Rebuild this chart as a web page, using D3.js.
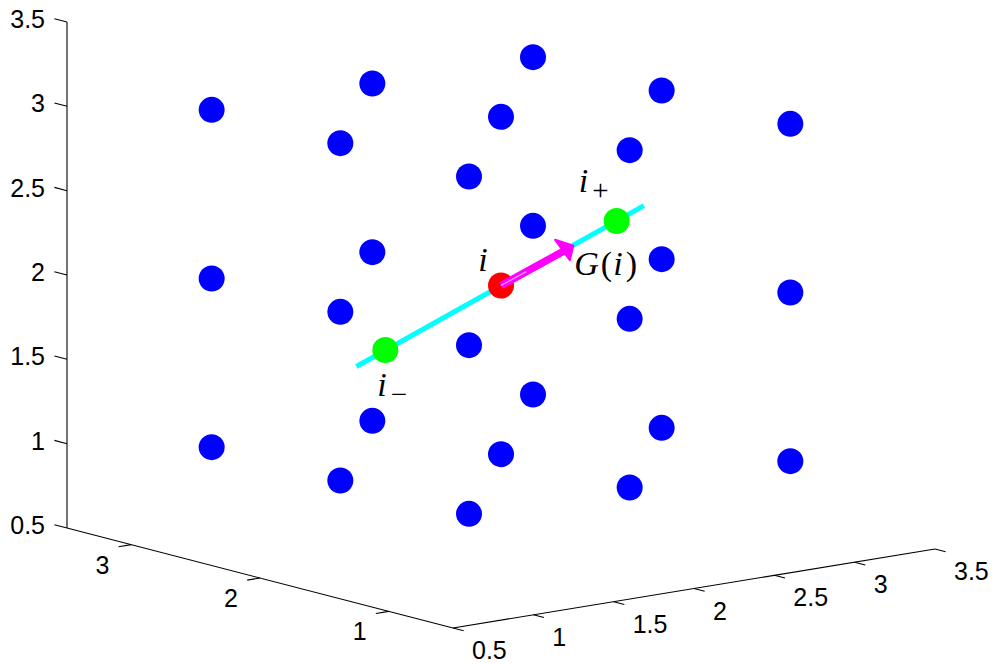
<!DOCTYPE html>
<html>
<head>
<meta charset="utf-8">
<script src="https://cdn.jsdelivr.net/npm/d3@7"></script>
<style>
  html, body { margin: 0; padding: 0; background: #fff; }
  svg { display: block; }
</style>
</head>
<body>
<svg id="chart" width="996" height="664"></svg>
<script>
// Axis ranges and tick labels
const xTicks = [0.5, 1, 1.5, 2, 2.5, 3, 3.5];
const yTicks = [1, 2, 3];
const zTicks = [0.5, 1, 1.5, 2, 2.5, 3, 3.5];
const axisDomain = [0.5, 3.5];

// Lattice levels along each axis (3 x 3 x 3 grid of sites)
const gridLevels = [1, 2, 3];

// Current site i, its neighbours along the search line, and the gradient tip
const siteI = [2, 2, 2];
const siteIPlus = [2.72, 2, 2.27];
const siteIMinus = [1.28, 2, 1.73];
const lineStart = [1.1, 2, 1.66];
const lineEnd = [2.89, 2, 2.335];
const gradTip = [2.45, 2, 2.165];

// Oblique view: screen position of the box corner and the three axis spans
const origin = [453, 628];
const spanX = [482, -79];
const spanY = [-386, -100];
const spanZ = [0, -506];

const fx = d3.scaleLinear().domain(axisDomain).range([0, 1]);
const fy = d3.scaleLinear().domain(axisDomain).range([0, 1]);
const fz = d3.scaleLinear().domain(axisDomain).range([0, 1]);

function proj(p) {
  const a = fx(p[0]), b = fy(p[1]), c = fz(p[2]);
  return [
    origin[0] + a * spanX[0] + b * spanY[0] + c * spanZ[0],
    origin[1] + a * spanX[1] + b * spanY[1] + c * spanZ[1]
  ];
}
function unit(v) { const n = Math.hypot(v[0], v[1]); return [v[0] / n, v[1] / n]; }

const svg = d3.select("#chart");
const tickFont = "'Liberation Sans', Arial, Helvetica, sans-serif";
const mathFont = "'Liberation Serif', 'Times New Roman', serif";

// ---- axes ----
const gAxes = svg.append("g").attr("stroke", "#000").attr("stroke-width", 1.1).attr("fill", "none");
const zLo = proj([0.5, 3.5, 0.5]), zHi = proj([0.5, 3.5, 3.5]);
const xHi = proj([3.5, 0.5, 0.5]), corner = proj([0.5, 0.5, 0.5]);
gAxes.append("line").attr("x1", zLo[0]).attr("y1", zLo[1]).attr("x2", zHi[0]).attr("y2", zHi[1]);
gAxes.append("line").attr("x1", zLo[0]).attr("y1", zLo[1]).attr("x2", corner[0]).attr("y2", corner[1]);
gAxes.append("line").attr("x1", corner[0]).attr("y1", corner[1]).attr("x2", xHi[0]).attr("y2", xHi[1]);

const dirX = unit([-spanY[0], -spanY[1]]);   // x ticks point away along -y
const dirY = unit([-spanX[0], -spanX[1]]);   // y ticks point away along -x
const dirZ = unit([spanY[0], spanY[1]]);     // z ticks point along +y

const labels = svg.append("g").attr("font-family", tickFont).attr("font-size", 25).attr("fill", "#000");

xTicks.forEach(t => {
  const p = proj([t, 0.5, 0.5]);
  gAxes.append("line").attr("x1", p[0]).attr("y1", p[1])
    .attr("x2", p[0] + dirX[0] * 11).attr("y2", p[1] + dirX[1] * 11);
  labels.append("text").attr("x", p[0] + 19).attr("y", p[1] + 22)
    .attr("text-anchor", "start").attr("dominant-baseline", "central").text(t);
});
yTicks.forEach(t => {
  const p = proj([0.5, t, 0.5]);
  gAxes.append("line").attr("x1", p[0]).attr("y1", p[1])
    .attr("x2", p[0] + dirY[0] * 13).attr("y2", p[1] + dirY[1] * 13);
  labels.append("text").attr("x", p[0] - 29).attr("y", p[1] + 20)
    .attr("text-anchor", "middle").attr("dominant-baseline", "central").text(t);
});
zTicks.forEach(t => {
  const p = proj([0.5, 3.5, t]);
  gAxes.append("line").attr("x1", p[0]).attr("y1", p[1])
    .attr("x2", p[0] + dirZ[0] * 13).attr("y2", p[1] + dirZ[1] * 13);
  labels.append("text").attr("x", p[0] - 22).attr("y", p[1] - 3)
    .attr("text-anchor", "end").attr("dominant-baseline", "central").text(t);
});

// ---- lattice sites ----
const R = 13;
const lattice = d3.cross(gridLevels, gridLevels, gridLevels)
  .map(([x, y, z]) => [x, y, z])
  .filter(p => !(p[0] === siteI[0] && p[1] === siteI[1] && p[2] === siteI[2]));

svg.append("g").selectAll("circle").data(lattice).join("circle")
  .attr("cx", d => proj(d)[0]).attr("cy", d => proj(d)[1])
  .attr("r", R).attr("fill", "#0000ff");

// ---- search line through i ----
const ls = proj(lineStart), le = proj(lineEnd);
svg.append("line").attr("x1", ls[0]).attr("y1", ls[1]).attr("x2", le[0]).attr("y2", le[1])
  .attr("stroke", "#00ffff").attr("stroke-width", 5);

svg.append("g").selectAll("circle").data([siteIPlus, siteIMinus]).join("circle")
  .attr("cx", d => proj(d)[0]).attr("cy", d => proj(d)[1])
  .attr("r", R).attr("fill", "#00ff00");

const pi = proj(siteI);
svg.append("circle").attr("cx", pi[0]).attr("cy", pi[1]).attr("r", R).attr("fill", "#ff0000");

// ---- gradient arrow G(i) ----
const pt = proj(gradTip);
const u = unit([pt[0] - pi[0], pt[1] - pi[1]]);
const n = [-u[1], u[0]];
const shaftEnd = [pt[0] - u[0] * 7, pt[1] - u[1] * 7];
svg.append("line").attr("x1", pi[0]).attr("y1", pi[1]).attr("x2", shaftEnd[0]).attr("y2", shaftEnd[1])
  .attr("stroke", "#ff00ff").attr("stroke-width", 7.5);
svg.append("line").attr("x1", pi[0]).attr("y1", pi[1])
  .attr("x2", pi[0] + (pt[0] - pi[0]) * 0.35).attr("y2", pi[1] + (pt[1] - pi[1]) * 0.35)
  .attr("stroke", "#ffa8ff").attr("stroke-width", 1.2);
const h1 = [pt[0] - u[0] * 13 - n[0] * 14, pt[1] - u[1] * 13 - n[1] * 14];
const h2 = [pt[0] - u[0] * 10 + n[0] * 11, pt[1] - u[1] * 10 + n[1] * 11];
svg.append("path")
  .attr("d", `M${pt[0]},${pt[1]}L${h1[0]},${h1[1]}L${h2[0]},${h2[1]}Z`)
  .attr("fill", "#ff00ff").attr("stroke", "#ff00ff").attr("stroke-width", 2)
  .attr("stroke-linejoin", "round");

// ---- math labels ----
const mg = svg.append("g").attr("font-family", mathFont).attr("fill", "#000");
function mathLabel(anchorPt, dx, dy, parts, anchor) {
  const t = mg.append("text").attr("x", anchorPt[0] + dx).attr("y", anchorPt[1] + dy)
    .attr("text-anchor", anchor || "start").attr("font-size", 34);
  parts.forEach(p => {
    const s = t.append("tspan").text(p.text);
    if (p.italic) s.attr("font-style", "italic");
    if (p.size) s.attr("font-size", p.size);
    if (p.dy) s.attr("dy", p.dy);
    if (p.dx) s.attr("dx", p.dx);
  });
}
mathLabel(pi, -18, -15, [{ text: "i", italic: true }], "middle");
mathLabel(proj(siteIPlus), -38, -29, [{ text: "i", italic: true }, { text: "+", size: 29, dy: 8, dx: 4 }]);
mathLabel(proj(siteIMinus), -8, 46, [{ text: "i", italic: true }, { text: "\u2212", size: 29, dy: 8, dx: 4 }]);
mathLabel(pt, 1, 29, [
  { text: "G", italic: true }, { text: "(", dx: 2 }, { text: "i", italic: true, dx: 1 }, { text: ")", dx: 3 }
]);
</script>
</body>
</html>
